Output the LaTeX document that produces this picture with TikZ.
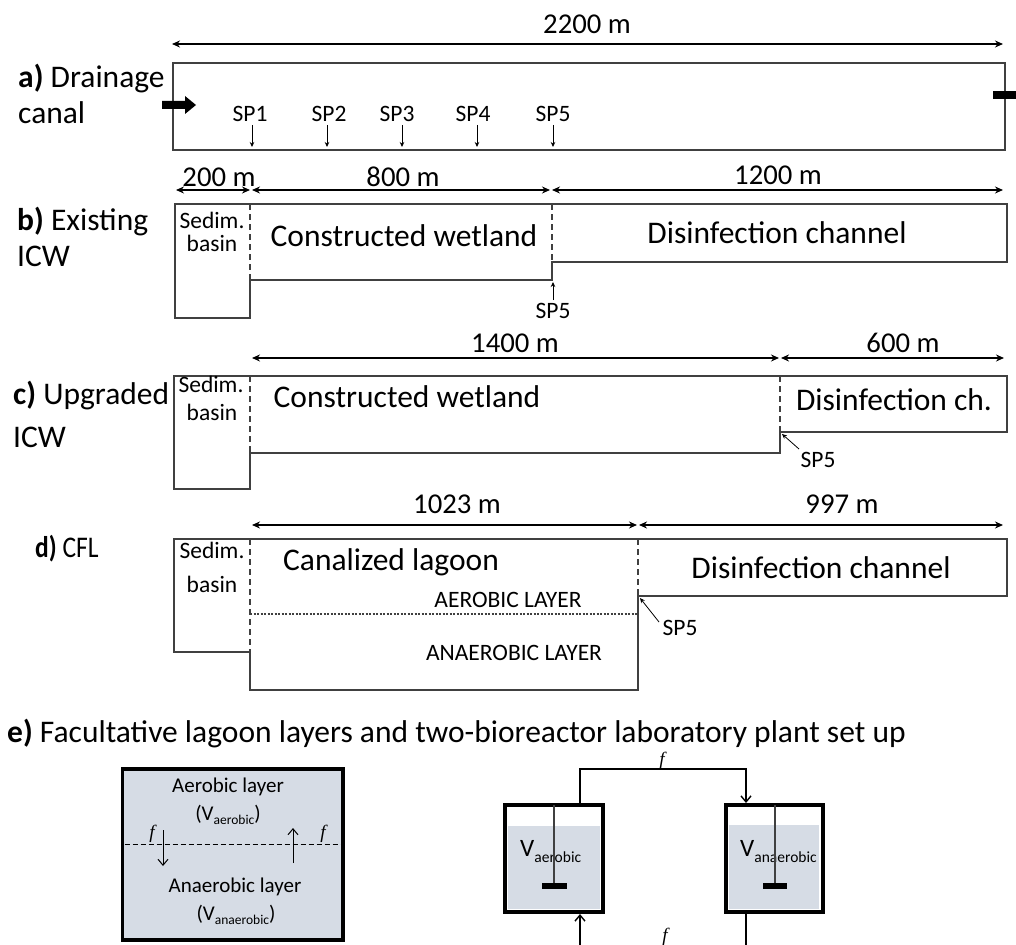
\documentclass[tikz,border=0pt]{standalone}
\usepackage{fontspec}
\setmainfont{Carlito}
\newfontfamily\fserif{Liberation Serif}
\usetikzlibrary{arrows.meta}
\definecolor{boxgray}{HTML}{404040}
\definecolor{liquid}{HTML}{D6DCE5}
\begin{document}
\begin{tikzpicture}[x=1pt,y=-1pt,
  outline/.style={draw=boxgray,line width=1.4pt,line join=miter},
  divider/.style={draw=boxgray,line width=1.4pt,dash pattern=on 6pt off 4pt},
  dimline/.style={line width=1.8pt,{Stealth[length=8pt,width=7pt]}-{Stealth[length=8pt,width=7pt]}},
  sparrow/.style={draw=black,line width=0.8pt,-{Stealth[length=5pt,width=4.5pt]}},
  big/.style={font=\fontsize{31.5}{36}\selectfont,inner sep=0pt,anchor=base},
  dimtxt/.style={font=\fontsize{28.7}{32}\selectfont,inner sep=0pt,anchor=base},
  small/.style={font=\fontsize{23.5}{26}\selectfont,inner sep=0pt,anchor=base},
  etxt/.style={font=\fontsize{21}{24}\selectfont,inner sep=0pt,anchor=base},
  ftxt/.style={font=\fontsize{19}{22}\selectfont\fserif\itshape,inner sep=0pt,anchor=base},
  flow/.style={draw=black,line width=1.4pt},
  flowarrow/.style={flow,-{Straight Barb[length=6pt,width=10pt]}},
  thinarrow/.style={draw=black,line width=1pt,-{Straight Barb[length=6pt,width=10pt]}},
  vessel/.style={draw=black,line width=4pt},
  shaft/.style={draw=boxgray,line width=1.5pt}
]
\useasboundingbox (0,0) rectangle (1016,944);

% ---------------- a) Drainage canal ----------------
\coordinate (a0) at (172,44); \coordinate (a1) at (1003,44);
\draw[dimline] (a0) -- (a1);
\node[dimtxt] (t2200) at (587,34) {2200 m};
\node[big,anchor=base west] (la1) at (18,88) {\textbf{a)} Drainage};
\node[big,anchor=base west] (la2) at (18,124) {canal};
\draw[outline] (173,63) rectangle (1005,150);
\fill[black] (162,101) -- (185,101) -- (185,96) -- (196,105) -- (185,114) -- (185,109) -- (162,109) -- cycle;
\fill[black] (993,91) rectangle (1016,99);
\foreach \n/\x/\ax in {1/250/252,2/329/327,3/397/402,4/473/477,5/553/553}{
  \node[small] (sp\n) at (\x,122) {SP\n};
  \coordinate (sps\n) at (\ax,125); \coordinate (spe\n) at (\ax,147);
  \draw[sparrow] (sps\n) -- (spe\n);
}

% ---------------- b) Existing ICW ----------------
\coordinate (b0) at (176,190); \coordinate (b1) at (250,190);
\coordinate (b2) at (252,190); \coordinate (b3) at (550,190);
\coordinate (b4) at (552,190); \coordinate (b5) at (1003,190);
\draw[dimline] (b0) -- (b1);
\draw[dimline] (b2) -- (b3);
\draw[dimline] (b4) -- (b5);
\node[dimtxt] (t200) at (219,186) {200 m};
\node[dimtxt] (t800) at (403,186) {800 m};
\node[dimtxt] (t1200) at (778,185) {1200 m};
\node[big,anchor=base west] (lb1) at (17,230) {\textbf{b)} Existing};
\node[big,anchor=base west] (lb2) at (17,266) {ICW};
\draw[outline] (175,204) -- (1007,204) -- (1007,262) -- (552,262) -- (552,280) -- (250,280) -- (250,318) -- (175,318) -- cycle;
\draw[divider] (250,204) -- (250,280);
\draw[divider] (552,204) -- (552,262);
\node[small] (bs1) at (212,228) {Sedim.};
\node[small] (bs2) at (212,251) {basin};
\node[big] (bcw) at (404,246) {Constructed wetland};
\node[big] (bdc) at (777,243) {Disinfection channel};
\node[small] (bsp5) at (553,318) {SP5};
\coordinate (bsps) at (553,300); \coordinate (bspe) at (553,282);
\draw[sparrow] (bsps) -- (bspe);

% ---------------- c) Upgraded ICW ----------------
\coordinate (c0) at (252,358); \coordinate (c1) at (779,358);
\coordinate (c2) at (781,358); \coordinate (c3) at (1004,358);
\draw[dimline] (c0) -- (c1);
\draw[dimline] (c2) -- (c3);
\node[dimtxt] (t1400) at (515,352) {1400 m};
\node[dimtxt] (t600) at (903,352) {600 m};
\node[big,anchor=base west] (lc1) at (13,404) {\textbf{c)} Upgraded};
\node[big,anchor=base west] (lc2) at (13,447) {ICW};
\draw[outline] (174,376) -- (1007,376) -- (1007,432) -- (780,432) -- (780,453) -- (250,453) -- (250,489) -- (174,489) -- cycle;
\draw[divider] (250,376) -- (250,453);
\draw[divider] (780,376) -- (780,432);
\node[small] (cs1) at (211,392) {Sedim.};
\node[small] (cs2) at (212,420) {basin};
\node[big] (ccw) at (407,407) {Constructed wetland};
\node[big] (cdc) at (894,410) {Disinfection ch.};
\node[small] (csp5) at (818,467) {SP5};
\coordinate (csps) at (799,449); \coordinate (cspe) at (782,434);
\draw[sparrow] (csps) -- (cspe);

% ---------------- d) CFL ----------------
\coordinate (d0) at (252,525); \coordinate (d1) at (637,525);
\coordinate (d2) at (639,525); \coordinate (d3) at (1003,525);
\draw[dimline] (d0) -- (d1);
\draw[dimline] (d2) -- (d3);
\node[dimtxt] (t1023) at (457,513) {1023 m};
\node[dimtxt] (t997) at (842,513) {997 m};
\node[font=\fontsize{30}{34}\selectfont,inner sep=0pt,anchor=base west] (ld1) at (35,557) {\scalebox{0.85}[1]{\textbf{d)} CFL}};
\draw[outline] (174,539) -- (1007,539) -- (1007,596) -- (638,596) -- (638,690) -- (250,690) -- (250,652) -- (174,652) -- cycle;
\draw[divider] (250,539) -- (250,652);
\draw[divider] (638,539) -- (638,596);
\draw[draw=boxgray,line width=1.2pt,dash pattern=on 2pt off 1.5pt] (250,614) -- (638,614);
\node[small] (ds1) at (212,558) {Sedim.};
\node[small] (ds2) at (212,592) {basin};
\node[big] (dcl) at (391,570) {Canalized lagoon};
\node[big] (ddc) at (821,578) {Disinfection channel};
\node[small] (daer) at (508,607) {AEROBIC LAYER};
\node[small] (dana) at (514,660) {ANAEROBIC LAYER};
\node[small] (dsp5) at (680,635) {SP5};
\coordinate (dsps) at (659,622); \coordinate (dspe) at (640,598);
\draw[sparrow] (dsps) -- (dspe);

% ---------------- e) ----------------
\node[big,anchor=base west] (le) at (7,742) {\textbf{e)} Facultative lagoon layers and two-bioreactor laboratory plant set up};

% lagoon layers box
\filldraw[fill=liquid,draw=black,line width=3.5pt] (122.5,769) rectangle (343,940);
\draw[black,line width=1pt,dash pattern=on 5pt off 3pt] (124.5,844) -- (341,844);
\node[etxt] (eaer) at (228,792) {Aerobic layer};
\node[etxt] (eaerv) at (228,820) {(V\raisebox{-4pt}{\fontsize{13.5}{14}\selectfont aerobic})};
\node[etxt] (eana) at (235,892) {Anaerobic layer};
\node[etxt] (eanav) at (236,920) {(V\raisebox{-4pt}{\fontsize{13.5}{14}\selectfont anaerobic})};
\node[ftxt] (ef1) at (152,838) {f};
\node[ftxt] (ef2) at (323,838) {f};
\coordinate (edn0) at (163,830); \coordinate (edn1) at (163,866);
\coordinate (eup0) at (293,863); \coordinate (eup1) at (293,828);
\draw[thinarrow] (edn0) -- (edn1);
\draw[thinarrow] (eup0) -- (eup1);

% two bioreactors
\fill[liquid] (508,826) rectangle (600,909);
\fill[liquid] (729,825) rectangle (819,909);
\node[font=\fontsize{25}{28}\selectfont,inner sep=0pt,anchor=base west] (rva) at (520,856) {V\raisebox{-6pt}{\fontsize{15.5}{16}\selectfont aerobic}};
\node[font=\fontsize{25}{28}\selectfont,inner sep=0pt,anchor=base west] (rvn) at (740,856) {V\raisebox{-6pt}{\fontsize{15.5}{16}\selectfont anaerobic}};
\draw[vessel] (505,805) rectangle (603,912);
\draw[vessel] (726,805) rectangle (823,912);
\draw[shaft] (554,805) -- (554,884);
\fill[black] (542,883) rectangle (567,889);
\draw[shaft] (775,805) -- (775,884);
\fill[black] (763,883) rectangle (787,889);

\coordinate (rtop0) at (580,803); \coordinate (rtop1) at (580,769);
\coordinate (rtop2) at (746,769); \coordinate (rtop3) at (746,803);
\draw[flowarrow] (rtop0) -- (rtop1) -- (rtop2) -- (rtop3);
\node[ftxt] (rf1) at (662,765) {f};
\coordinate (rbot0) at (580,946); \coordinate (rbot1) at (580,914);
\coordinate (rbot2) at (746,914); \coordinate (rbot3) at (746,946);
\draw[flowarrow] (rbot0) -- (rbot1);
\draw[flow] (rbot2) -- (rbot3);
\node[ftxt] (rf2) at (665,941) {f};
\end{tikzpicture}
\end{document}
